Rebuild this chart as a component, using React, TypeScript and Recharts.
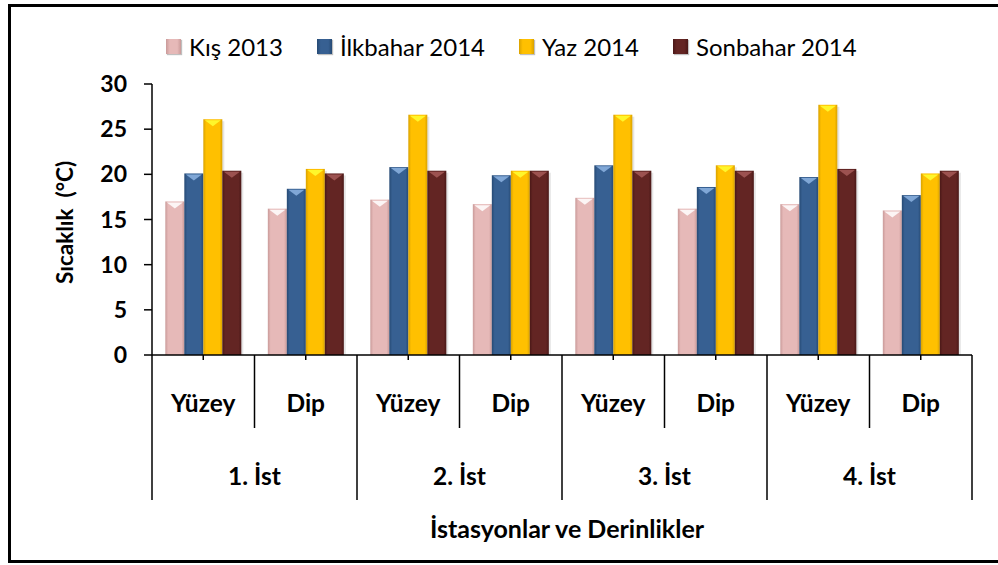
// Seasonal water temperature by station and depth — bevelled column chart.
import { BarChart, Bar, XAxis, YAxis, Legend } from 'recharts';

const depths = ['Yüzey', 'Dip', 'Yüzey', 'Dip', 'Yüzey', 'Dip', 'Yüzey', 'Dip'];
const stations = ['1. İst', '2. İst', '3. İst', '4. İst'];
const kis2013 = [17.0, 16.2, 17.2, 16.7, 17.4, 16.2, 16.7, 16.0];
const ilkbahar2014 = [20.1, 18.4, 20.8, 19.9, 21.0, 18.6, 19.7, 17.7];
const yaz2014 = [26.1, 20.6, 26.6, 20.4, 26.6, 21.0, 27.7, 20.1];
const sonbahar2014 = [20.4, 20.1, 20.4, 20.4, 20.4, 20.4, 20.6, 20.4];
const yTicks = [0, 5, 10, 15, 20, 25, 30];

const data = depths.map((d, i) => ({
  depth: d,
  kis: kis2013[i],
  ilkbahar: ilkbahar2014[i],
  yaz: yaz2014[i],
  sonbahar: sonbahar2014[i],
}));

interface Tone {
  key: string;
  label: string;
  base: string;
  dark: string;
  light: string;
}

const tones: Tone[] = [
  { key: 'kis', label: 'Kış 2013', base: '#E6B9B8', dark: '#C99A99', light: '#FFFFFF' },
  { key: 'ilkbahar', label: 'İlkbahar 2014', base: '#376092', dark: '#264a74', light: '#8DB4E2' },
  { key: 'yaz', label: 'Yaz 2014', base: '#FFC000', dark: '#D9A200', light: '#FFFF33' },
  { key: 'sonbahar', label: 'Sonbahar 2014', base: '#632523', dark: '#4a1817', light: '#A65A58' },
];

const FONT = 'Lato, "Open Sans", sans-serif';
const W = 998;
const H = 565;
const TICK = 5;

const bevel = (t: Tone) => (p: any) => {
  const { x, y, width: w, height: h, index } = p;
  if (!h || h <= 0) return <g />;
  const gid = `bev-${t.key}-${index}`;
  return (
    <g>
      <defs>
        <linearGradient id={gid} x1="0" y1="0" x2="1" y2="0">
          <stop offset="0" stopColor={t.dark} />
          <stop offset="0.15" stopColor={t.base} />
          <stop offset="0.85" stopColor={t.base} />
          <stop offset="1" stopColor={t.dark} />
        </linearGradient>
      </defs>
      <rect x={x + 2} y={y + 2} width={w} height={h - 2} fill="#000" opacity={0.1} />
      <rect x={x} y={y} width={w} height={h} fill={`url(#${gid})`} />
      <polygon
        points={`${x + 1.5},${y + 1} ${x + w - 1.5},${y + 1} ${x + w / 2},${y + 7}`}
        fill={t.light}
        opacity={0.85}
      />
    </g>
  );
};

const XTick = (props: any) => {
  const { x, y, payload, width } = props;
  const i = payload.index;
  const band = (width || 820) / depths.length;
  const ay = y - TICK;
  const long = i % 2 === 1;
  return (
    <g>
      <text x={x} y={ay + 47} textAnchor="middle" dominantBaseline="central"
        fontFamily={FONT} fontWeight={700} fontSize={24.5} fill="#000">
        {payload.value}
      </text>
      {i === 0 && (
        <line x1={x - band / 2} y1={ay} x2={x - band / 2} y2={ay + 145} stroke="#000" strokeWidth={1.5} />
      )}
      <line x1={x + band / 2} y1={ay} x2={x + band / 2} y2={ay + (long ? 145 : 73)} stroke="#000" strokeWidth={1.5} />
      {!long && (
        <text x={x + band / 2} y={ay + 120} textAnchor="middle" dominantBaseline="central"
          fontFamily={FONT} fontWeight={700} fontSize={24.5} fill="#000">
          {stations[Math.floor(i / 2)]}
        </text>
      )}
    </g>
  );
};

const LegendBox = () => (
  <div style={{ display: 'flex', alignItems: 'center', height: 28, paddingLeft: 166, fontFamily: FONT, fontSize: 24, color: '#000' }}>
    {tones.map((t) => (
      <div key={t.key} style={{ display: 'flex', alignItems: 'center', marginRight: 34 }}>
        <span style={{ width: 15, height: 15, marginRight: 8, background: `linear-gradient(90deg, ${t.dark}, ${t.base} 25%, ${t.base} 75%, ${t.dark})`, boxShadow: '1px 1px 1px rgba(0,0,0,0.25)' }} />
        <span>{t.label}</span>
      </div>
    ))}
  </div>
);

export default function App() {
  return (
    <div style={{ position: 'fixed', left: 0, top: 0, width: W, height: H, overflow: 'hidden', background: '#fff' }}>
      <div style={{ position: 'absolute', left: 8, top: 4, width: 1000, height: 559, border: '3px solid #000', boxSizing: 'border-box' }} />
      <div style={{ position: 'absolute', left: 0, top: 0 }}>
        <BarChart width={W} height={H} data={data} margin={{ top: 56, right: 26, bottom: 0, left: 32 }}
          barCategoryGap="13%" barGap={0}>
          <Legend verticalAlign="top" content={<LegendBox />} wrapperStyle={{ top: 32, left: 0, width: W, height: 28 }} />
          <XAxis dataKey="depth" height={210} interval={0} tick={<XTick />} tickSize={TICK} tickMargin={0}
            axisLine={{ stroke: '#000', strokeWidth: 1.5 }} tickLine={{ stroke: '#000', strokeWidth: 1.5 }}
            label={{
              content: ({ viewBox }: any) => (
                <text x={viewBox.x + viewBox.width / 2 + 5} y={viewBox.y + 173} textAnchor="middle" dominantBaseline="central"
                  fontFamily={FONT} fontWeight={700} fontSize={25} fill="#000">
                  İstasyonlar ve Derinlikler
                </text>
              ),
            }}
          />
          <YAxis width={120} domain={[0, 30]} ticks={yTicks} interval={0} tickSize={8} tickMargin={17}
            axisLine={{ stroke: '#000', strokeWidth: 1.5 }} tickLine={{ stroke: '#000', strokeWidth: 1.5 }}
            tick={{ fontFamily: FONT, fontWeight: 700, fontSize: 23, fill: '#000' }}
            label={{
              content: ({ viewBox }: any) => {
                const cx = viewBox.x + 32;
                const cy = viewBox.y + viewBox.height / 2 + 3;
                return (
                  <text x={cx} y={cy} transform={`rotate(-90 ${cx} ${cy})`} textAnchor="middle" dominantBaseline="central"
                    fontFamily={FONT} fontWeight={700} fontSize={22.5} fill="#000">
                    {'Sıcaklık\u00A0\u00A0(°C)'}
                  </text>
                );
              },
            }}
          />
          {tones.map((t) => (
            <Bar key={t.key} dataKey={t.key} name={t.label} fill={t.base} shape={bevel(t)} isAnimationActive={false} />
          ))}
        </BarChart>
      </div>
    </div>
  );
}
